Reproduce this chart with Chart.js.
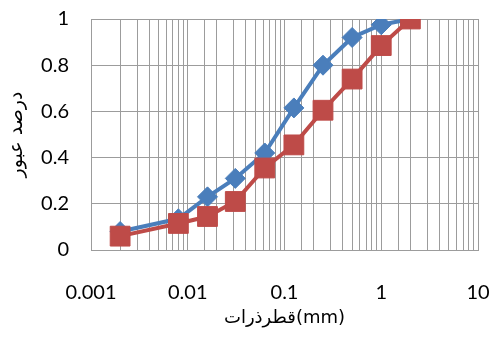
<!DOCTYPE html>
<html>
<head>
<meta charset="utf-8">
<script src="https://cdn.jsdelivr.net/npm/chart.js@4/dist/chart.umd.min.js"></script>
<style>
  html, body { margin: 0; padding: 0; background: #fff; }
  #wrap { width: 495px; height: 347px; position: relative; }
</style>
</head>
<body>
<div id="wrap"><canvas id="c" width="495" height="347"></canvas></div>
<script>
// Grain size (mm) of each sieve / hydrometer reading
const sizes = [0.002, 0.008, 0.016, 0.031, 0.0625, 0.125, 0.25, 0.5, 1, 2];
// Fraction passing for the two samples
const blueSeries = [0.08, 0.135, 0.23, 0.31, 0.42, 0.615, 0.80, 0.92, 0.975, 1.0];
const redSeries  = [0.06, 0.115, 0.145, 0.21, 0.355, 0.455, 0.605, 0.74, 0.885, 1.0];
// Axis labels
const xTickLabels = ['0.001', '0.01', '0.1', '1', '10'];
const yTickLabels = ['0', '0.2', '0.4', '0.6', '0.8', '1'];
const xTitle = 'قطرذرات(mm)';
const yTitle = 'درصد عبور';

const toPoints = vals => vals.map((v, i) => ({ x: sizes[i], y: v }));
const gridColor = '#9c9c9c';
const tickFont = { family: "Lato, 'DejaVu Sans', sans-serif", size: 20 };

new Chart(document.getElementById('c'), {
  type: 'line',
  data: {
    datasets: [
      {
        data: toPoints(blueSeries),
        borderColor: '#4a7ebb',
        backgroundColor: '#4a7ebb',
        borderWidth: 4,
        pointStyle: 'rectRot',
        pointRadius: 10,
        pointBorderWidth: 1,
        tension: 0,
        order: 2
      },
      {
        data: toPoints(redSeries),
        borderColor: '#be4b48',
        backgroundColor: '#be4b48',
        borderWidth: 4,
        pointStyle: 'rect',
        pointRadius: 14,
        pointBorderWidth: 1,
        tension: 0,
        order: 1
      }
    ]
  },
  options: {
    responsive: false,
    animation: false,
    layout: { padding: { top: 19, right: 17, bottom: 8, left: 6 } },
    plugins: { legend: { display: false }, tooltip: { enabled: false } },
    scales: {
      x: {
        type: 'logarithmic',
        min: 0.001,
        max: 10,
        grid: { color: gridColor, lineWidth: 1, drawTicks: false },
        border: { color: gridColor },
        ticks: {
          autoSkip: false,
          maxRotation: 0,
          padding: 31,
          color: '#000',
          font: tickFont,
          callback: (v) => {
            const k = Math.log10(v);
            if (Math.abs(k - Math.round(k)) < 1e-9) {
              return xTickLabels[Math.round(k) + 3];
            }
            return '';
          }
        },
        title: {
          display: true,
          text: xTitle,
          color: '#000',
          font: { family: "'DejaVu Sans', sans-serif", size: 18 },
          padding: { top: 4, bottom: 10 }
        },
        afterFit: (s) => { s.height = 89; s.paddingLeft = 0; s.paddingRight = 0; }
      },
      y: {
        min: 0,
        max: 1,
        grid: { color: gridColor, lineWidth: 1, drawTicks: false },
        border: { color: gridColor },
        ticks: {
          stepSize: 0.2,
          padding: 22,
          color: '#000',
          font: tickFont,
          callback: (v, i) => yTickLabels[i]
        },
        title: {
          display: true,
          text: yTitle,
          color: '#000',
          font: { family: "'DejaVu Sans', sans-serif", size: 19 },
          padding: { top: 0, bottom: 0 }
        },
        afterFit: (s) => { s.width = 85; s.paddingTop = 0; s.paddingBottom = 0; }
      }
    }
  }
});
</script>
</body>
</html>
